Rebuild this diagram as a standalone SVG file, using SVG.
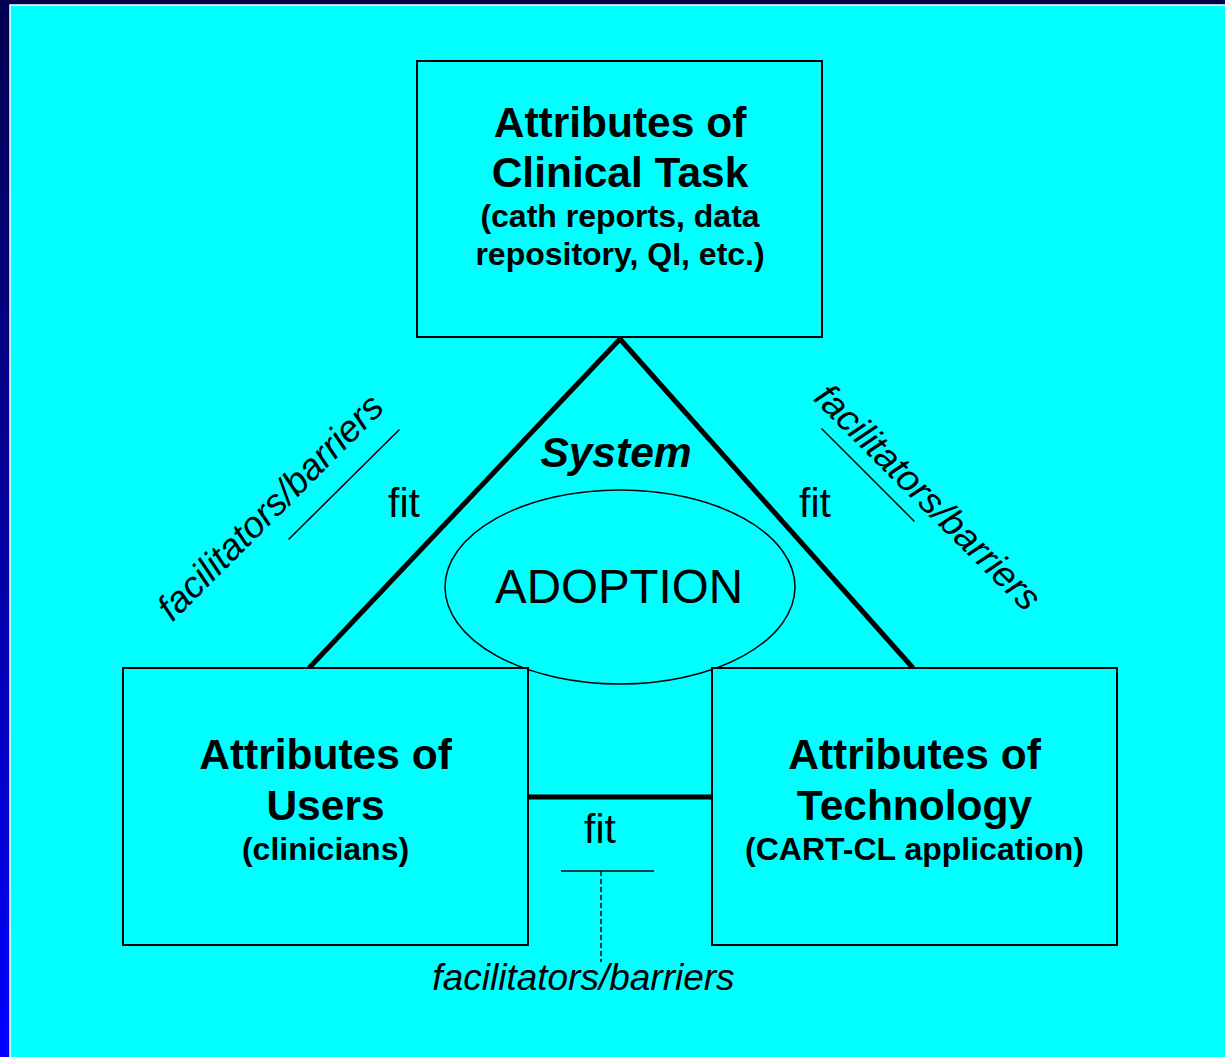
<svg xmlns="http://www.w3.org/2000/svg" width="1225" height="1057" viewBox="0 0 1225 1057">
  <defs>
    <linearGradient id="frameGrad" x1="0" y1="0" x2="0" y2="1">
      <stop offset="0" stop-color="#000050"/>
      <stop offset="0.5" stop-color="#0000a0"/>
      <stop offset="1" stop-color="#0000ff"/>
    </linearGradient>
    <style>
      .box { fill: #00ffff; stroke: #000; stroke-width: 2; }
      .edge { stroke: #000; stroke-width: 5; fill: none; }
      .thin { stroke: #000; stroke-width: 1.5; fill: none; }
      .title { font-family: "Liberation Sans", Arial, sans-serif; font-weight: bold; font-size: 42.5px; text-anchor: middle; fill: #000; }
      .sub { font-family: "Liberation Sans", Arial, sans-serif; font-weight: bold; font-size: 32px; text-anchor: middle; fill: #000; }
      .fit { font-family: "Liberation Sans", Arial, sans-serif; font-size: 41px; text-anchor: middle; fill: #000; }
      .fb { font-family: "Liberation Sans", Arial, sans-serif; font-style: italic; font-size: 37px; text-anchor: middle; fill: #000; }
    </style>
  </defs>

  <!-- slide frame -->
  <rect x="0" y="0" width="1225" height="1057" fill="url(#frameGrad)"/>
  <rect x="10" y="5" width="1220" height="1060" fill="#00ffff" stroke="#fff" stroke-width="1.5"/>

  <!-- connectors: triangle sides, base link and the facilitator/barrier marks -->
  <g id="connectors">
    <polyline class="edge" points="309,668 620,339 913,668" stroke-linejoin="miter"/>
    <line class="edge" x1="528" y1="797" x2="712" y2="797"/>
    <line class="thin" x1="288.5" y1="539.5" x2="399.5" y2="429.5"/>
    <line class="thin" x1="821.5" y1="428.5" x2="914.5" y2="521.5"/>
    <line class="thin" x1="561" y1="871" x2="654" y2="871"/>
    <line class="thin" x1="601" y1="871" x2="601" y2="962" stroke-dasharray="5,3"/>
  </g>

  <!-- labels along the connectors -->
  <g id="labels">
    <text class="fit" x="404" y="517">fit</text>
    <text class="fit" x="815" y="517">fit</text>
    <text class="fit" x="600" y="843">fit</text>
    <text class="fb" transform="translate(279,516) rotate(-45)">facilitators/barriers</text>
    <text class="fb" transform="translate(919,506) rotate(45)">facilitators/barriers</text>
    <text class="fb" x="583.5" y="990">facilitators/barriers</text>
  </g>

  <g id="task">
    <rect class="box" x="417" y="61" width="405" height="276"/>
    <text class="title" x="620" y="137">Attributes of</text>
    <text class="title" x="620" y="187">Clinical Task</text>
    <text class="sub" x="620" y="227">(cath reports, data</text>
    <text class="sub" x="620" y="265">repository, QI, etc.)</text>
  </g>

  <g id="system">
    <text x="616" y="467" font-family="Liberation Sans, Arial, sans-serif" font-weight="bold" font-style="italic" font-size="42.5" text-anchor="middle">System</text>
  </g>

  <g id="adoption">
    <ellipse cx="620" cy="587" rx="175" ry="97" fill="none" stroke="#000" stroke-width="1.5"/>
    <text x="619" y="603" font-family="Liberation Sans, Arial, sans-serif" font-size="47.5" text-anchor="middle">ADOPTION</text>
  </g>

  <g id="users">
    <rect class="box" x="123" y="668" width="405" height="277"/>
    <text class="title" x="325.5" y="769">Attributes of</text>
    <text class="title" x="325.5" y="820">Users</text>
    <text class="sub" x="325.5" y="860">(clinicians)</text>
  </g>

  <g id="technology">
    <rect class="box" x="712" y="668" width="405" height="277"/>
    <text class="title" x="914.5" y="769">Attributes of</text>
    <text class="title" x="914.5" y="820">Technology</text>
    <text class="sub" x="914.5" y="860">(CART-CL application)</text>
  </g>
</svg>
